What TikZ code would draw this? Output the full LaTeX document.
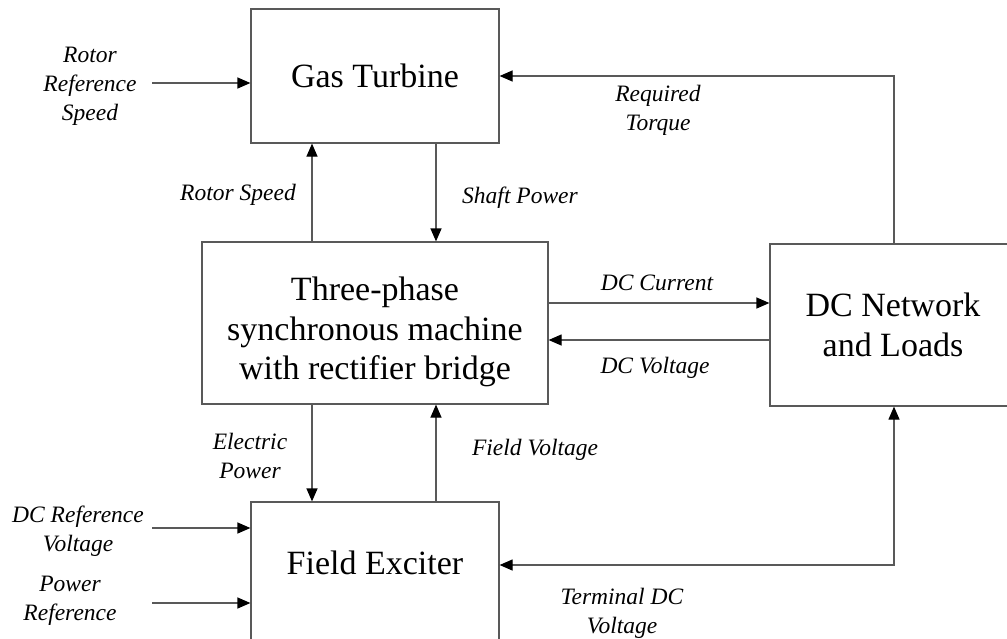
\documentclass[tikz,border=0pt]{standalone}
\usepackage{fontspec}
\setmainfont{Liberation Serif}
\usetikzlibrary{arrows.meta,calc}
\begin{document}
\begin{tikzpicture}[x=1pt,y=-1pt,
  box/.style={draw=black!65, line width=1.2pt, inner sep=0pt, align=center,
              font=\fontsize{34}{40}\selectfont},
  btxt/.style={font=\fontsize{34}{39.5}\selectfont, align=center, inner sep=0pt},
  lbl/.style={font=\fontsize{23.5}{29}\selectfont\itshape, align=center, inner sep=0pt},
  tip/.style={Triangle[length=13pt,width=11pt,color=black]},
  conn/.style={draw=black!65, line width=1.2pt, -{Triangle[length=13pt,width=11pt,color=black]}},
  bconn/.style={draw=black!65, line width=1.2pt, {Triangle[length=13pt,width=11pt,color=black]}-{Triangle[length=13pt,width=11pt,color=black]}}]
\useasboundingbox (0,0) rectangle (1007,638);
% boxes
\node[box, minimum width=248pt, minimum height=134pt] (gt) at (375,76) {Gas Turbine};
\node[box, minimum width=346pt, minimum height=162pt] (ts) at (375,323) {};
\node[btxt] (tst) at (375,332) {Three-phase\\synchronous machine\\with rectifier bridge};
\node[box, minimum width=246pt, minimum height=162pt] (dc) at (893,325) {DC Network\\and Loads};
\node[box, minimum width=248pt, minimum height=143pt] (fe) at (375,573.5) {};
\node[btxt] (fet) at (375,563) {Field Exciter};
% helper coordinates
\coordinate (xL) at (312,0);
\coordinate (xR) at (436,0);
\coordinate (xT) at (894,0);
\coordinate (yC) at (0,303);
\coordinate (yV) at (0,340);
\coordinate (yT) at (0,565);
\coordinate (rrs) at (152,83);
\coordinate (drv) at (152,528);
\coordinate (pwr) at (152,603);
% connectors
\draw[conn] (rrs) -- (rrs -| gt.west);
\draw[conn] (xL |- ts.north) -- (xL |- gt.south);
\draw[conn] (xR |- gt.south) -- (xR |- ts.north);
\draw[conn] (xT |- dc.north) |- (gt.east);
\draw[conn] (yC -| ts.east) -- (yC -| dc.west);
\draw[conn] (yV -| dc.west) -- (yV -| ts.east);
\draw[conn] (xL |- ts.south) -- (xL |- fe.north);
\draw[conn] (xR |- fe.north) -- (xR |- ts.south);
\draw[conn] (drv) -- (drv -| fe.west);
\draw[conn] (pwr) -- (pwr -| fe.west);
\draw[bconn] (yT -| fe.east) -| (xT |- dc.south);
% labels
\node[lbl] (l1) at (90,86) {Rotor\\Reference\\Speed};
\node[lbl] (l2) at (238,195) {Rotor Speed};
\node[lbl] (l3) at (520,198) {Shaft Power};
\node[lbl] (l4) at (658,110) {Required\\Torque};
\node[lbl] (l5) at (657,283) {DC Current};
\node[lbl] (l6) at (655,368) {DC Voltage};
\node[lbl] (l7) at (250,456) {Electric\\Power};
\node[lbl] (l8) at (535,450) {Field Voltage};
\node[lbl] (l9) at (78,531) {DC Reference\\Voltage};
\node[lbl] (l10) at (70,601) {Power\\Reference};
\node[lbl] (l11) at (622,613) {Terminal DC\\Voltage};
\end{tikzpicture}
\end{document}
